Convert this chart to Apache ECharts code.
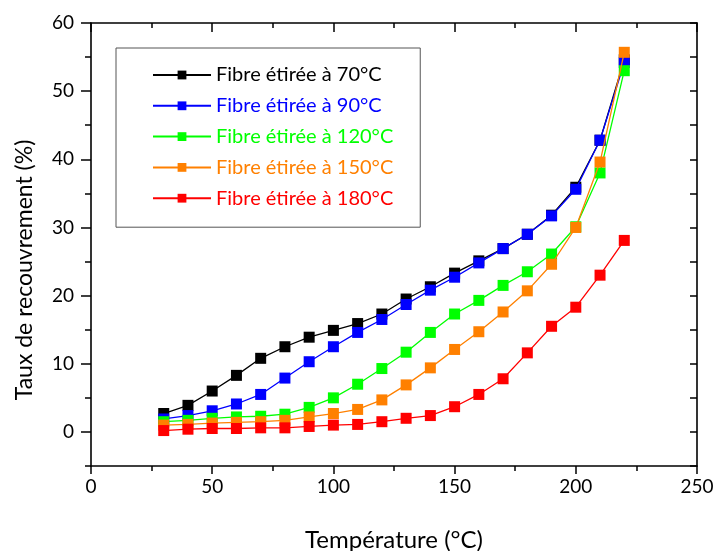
<!DOCTYPE html>
<html>
<head>
<meta charset="utf-8">
<script src="https://cdn.jsdelivr.net/npm/echarts@6/dist/echarts.min.js"></script>
<style>html,body{margin:0;padding:0;background:#fff;}#chart{width:717px;height:551px;}</style>
</head>
<body>
<div id="chart"></div>
<script>
var temperatures = [30, 40, 50, 60, 70, 80, 90, 100, 110, 120, 130, 140, 150, 160, 170, 180, 190, 200, 210, 220];
var fibre70  = [2.7, 3.9, 6.0, 8.3, 10.8, 12.5, 13.9, 14.9, 15.9, 17.3, 19.5, 21.3, 23.3, 25.1, 26.9, 29.0, 31.8, 35.9, 42.8, 54.6];
var fibre90  = [1.9, 2.4, 3.1, 4.1, 5.5, 7.9, 10.3, 12.5, 14.6, 16.5, 18.7, 20.8, 22.7, 24.8, 26.9, 29.0, 31.7, 35.6, 42.8, 54.2];
var fibre120 = [1.5, 1.7, 2.0, 2.2, 2.3, 2.6, 3.6, 5.0, 7.0, 9.3, 11.7, 14.6, 17.3, 19.3, 21.5, 23.5, 26.1, 30.1, 38.0, 53.0];
var fibre150 = [1.0, 1.1, 1.3, 1.4, 1.5, 1.7, 2.2, 2.7, 3.3, 4.7, 6.9, 9.4, 12.1, 14.7, 17.6, 20.7, 24.6, 30.0, 39.6, 55.7];
var fibre180 = [0.2, 0.4, 0.5, 0.5, 0.6, 0.6, 0.8, 1.0, 1.1, 1.5, 2.0, 2.4, 3.7, 5.5, 7.8, 11.6, 15.5, 18.3, 23.0, 28.1];
var seriesNames = ['Fibre étirée à 70°C', 'Fibre étirée à 90°C', 'Fibre étirée à 120°C', 'Fibre étirée à 150°C', 'Fibre étirée à 180°C'];
var seriesColors = ['#000000', '#0000ff', '#00ff00', '#ff8000', '#ff0000'];
var xTickLabels = [0, 50, 100, 150, 200, 250];
var yTickLabels = [0, 10, 20, 30, 40, 50, 60];
var xTitle = 'Température (°C)';
var yTitle = 'Taux de recouvrement (%)';

var seriesValues = [fibre70, fibre90, fibre120, fibre150, fibre180];
var FONT = 'Lato';

var chart = echarts.init(document.getElementById('chart'), null, {renderer: 'canvas'});

var series = seriesValues.map(function (vals, i) {
  return {
    name: seriesNames[i],
    type: 'line',
    xAxisIndex: 0,
    yAxisIndex: 0,
    data: temperatures.map(function (t, j) { return [t, vals[j]]; }),
    symbol: 'rect',
    symbolSize: 11,
    showSymbol: true,
    color: seriesColors[i],
    lineStyle: {width: 1.3, color: seriesColors[i]},
    itemStyle: {color: seriesColors[i]},
    animation: false,
    z: 2 + i
  };
});

function axisLine() {
  return {show: true, onZero: false, lineStyle: {color: '#000', width: 1.6}};
}

var option = {
  backgroundColor: '#ffffff',
  animation: false,
  grid: {left: 91, right: 20, top: 23, bottom: 85, containLabel: false, outerBoundsMode: 'none'},
  legend: {
    left: 116,
    top: 48,
    orient: 'vertical',
    padding: [17, 27, 19, 36],
    borderColor: '#555',
    borderWidth: 1,
    itemWidth: 58,
    itemHeight: 11,
    itemGap: 10.8,
    textStyle: {fontFamily: FONT, fontSize: 20, lineHeight: 20},
    data: seriesNames.map(function (n, i) {
      return {name: n, textStyle: {color: seriesColors[i]}};
    })
  },
  xAxis: [
    {
      type: 'value', position: 'bottom', min: 0, max: 250, interval: 50,
      axisLine: axisLine(),
      axisTick: {show: true, length: 8, lineStyle: {color: '#000', width: 1.5}},
      minorTick: {show: true, splitNumber: 2, length: 5, lineStyle: {color: '#000', width: 1.5}},
      splitLine: {show: false},
      axisLabel: {customValues: xTickLabels, color: '#000', fontFamily: FONT, fontSize: 19, margin: 11},
      name: xTitle, nameLocation: 'middle', nameGap: 62,
      nameTextStyle: {color: '#000', fontFamily: FONT, fontSize: 24}
    },
    {
      type: 'value', position: 'top', min: 0, max: 250, interval: 50,
      axisLine: axisLine(),
      axisTick: {show: true, inside: true, length: 9, lineStyle: {color: '#000', width: 1.5}},
      minorTick: {show: true, splitNumber: 2, length: 5, lineStyle: {color: '#000', width: 1.5}},
      splitLine: {show: false},
      axisLabel: {show: false}
    }
  ],
  yAxis: [
    {
      type: 'value', position: 'left', min: -5, max: 60,
      axisLine: axisLine(),
      axisTick: {show: true, customValues: yTickLabels, length: 10, lineStyle: {color: '#000', width: 1.5}},
      splitLine: {show: false},
      axisLabel: {customValues: yTickLabels, color: '#000', fontFamily: FONT, fontSize: 19, margin: 17}
    },
    {
      type: 'value', position: 'left', offset: 0, min: -5, max: 60, interval: 5,
      axisLine: {show: false, onZero: false},
      axisTick: {show: true, length: 6, lineStyle: {color: '#000', width: 1.5}},
      splitLine: {show: false},
      axisLabel: {show: false}
    },
    {
      type: 'value', position: 'right', min: -5, max: 60, interval: 5,
      axisLine: axisLine(),
      axisTick: {show: true, inside: true, length: 7, lineStyle: {color: '#000', width: 1.5}},
      splitLine: {show: false},
      axisLabel: {show: false}
    }
  ],
  graphic: [
    {
      type: 'text',
      x: 25, y: 270,
      rotation: Math.PI / 2,
      style: {text: yTitle, fill: '#000', font: '23px Lato', textAlign: 'center', textVerticalAlign: 'middle'}
    }
  ],
  series: series
};

chart.setOption(option);
</script>
</body>
</html>
